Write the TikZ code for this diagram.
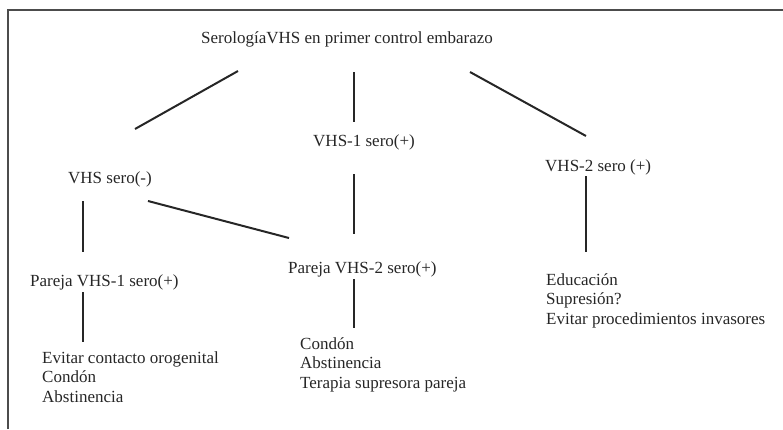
\documentclass[tikz,border=0pt]{standalone}
\usepackage{fontspec}
\setmainfont{Liberation Serif}
\begin{document}
\begin{tikzpicture}[x=1pt,y=-1pt,
  lbl/.style={anchor=base west,inner sep=0pt,align=left,text=black!85,
    font=\fontsize{17}{19.3}\selectfont},
  conn/.style={line width=2pt,draw=black!85},
  frame/.style={line width=1.6pt,draw=black!70}]
\useasboundingbox (0,0) rectangle (783,429);
\draw[frame] (8,429) -- (8,10) -- (783,10);
% nodes (multi-line nodes: base = baseline of the last line)
\node[lbl] (top) at (201,43) {SerologíaVHS en primer control embarazo};
\node[lbl] (v1) at (313,146) {VHS-1 sero(+)};
\node[lbl] (vneg) at (68,183) {VHS sero(-)};
\node[lbl] (v2) at (545,171) {VHS-2 sero (+)};
\node[lbl] (p1) at (30,286) {Pareja VHS-1 sero(+)};
\node[lbl] (p2) at (288,273) {Pareja VHS-2 sero(+)};
\node[lbl] (r3) at (546,324) {Educación\\Supresión?\\Evitar procedimientos invasores};
\node[lbl] (r1) at (42,402) {Evitar contacto orogenital\\Condón\\Abstinencia};
\node[lbl] (r2) at (300,388) {Condón\\Abstinencia\\Terapia supresora pareja};
% connector end points
\coordinate (a1) at (238,71);  \coordinate (b1) at (135,129);
\coordinate (a2) at (354,72);  \coordinate (b2) at (354,122);
\coordinate (a3) at (470,72);  \coordinate (b3) at (586,136);
\coordinate (a4) at (148,201); \coordinate (b4) at (289,238);
\coordinate (a5) at (83,201);  \coordinate (b5) at (83,252);
\coordinate (a6) at (354,174); \coordinate (b6) at (354,234);
\coordinate (a7) at (586,176); \coordinate (b7) at (586,252);
\coordinate (a8) at (83,292);  \coordinate (b8) at (83,342);
\coordinate (a9) at (354,279); \coordinate (b9) at (354,328);
\draw[conn] (a1) -- (b1);
\draw[conn] (a2) -- (b2);
\draw[conn] (a3) -- (b3);
\draw[conn] (a4) -- (b4);
\draw[conn] (a5) -- (b5);
\draw[conn] (a6) -- (b6);
\draw[conn] (a7) -- (b7);
\draw[conn] (a8) -- (b8);
\draw[conn] (a9) -- (b9);
\end{tikzpicture}
\end{document}
